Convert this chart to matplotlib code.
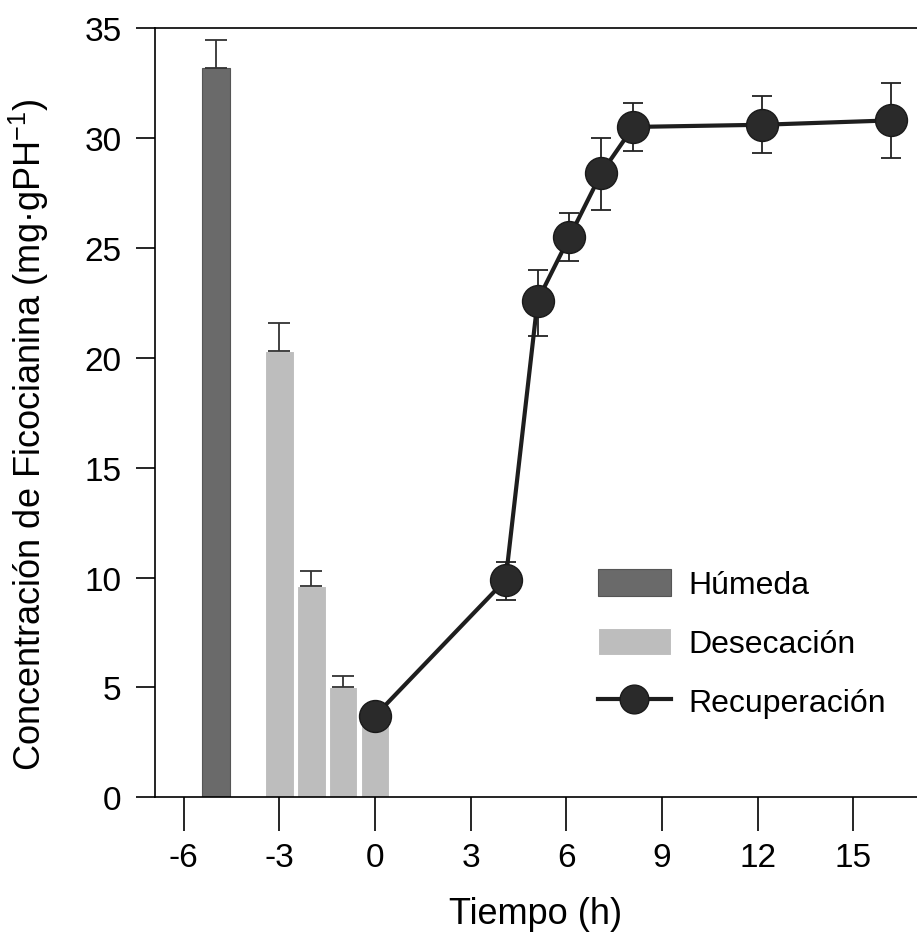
import numpy as np
import matplotlib
matplotlib.use('Agg')
import matplotlib.pyplot as plt

# Data
# Húmeda (wet) bar
x_humeda = [-5]
y_humeda = [33.2]
e_humeda = [1.25]

# Desecación (drying) bars
x_desec = [-3, -2, -1, 0]
y_desec = [20.3, 9.6, 5.0, 3.7]
e_desec = [1.3, 0.7, 0.5, 0.2]

# Recuperación (recovery) line
x_recup = [0, 4.1, 5.1, 6.1, 7.1, 8.1, 12.15, 16.2]
y_recup = [3.7, 9.9, 22.6, 25.5, 28.4, 30.5, 30.6, 30.8]
e_low = [0.1, 0.9, 1.6, 1.1, 1.7, 1.1, 1.3, 1.7]
e_high = [0.1, 0.8, 1.4, 1.1, 1.6, 1.1, 1.3, 1.7]

xticks = [-6, -3, 0, 3, 6, 9, 12, 15]
yticks = [0, 5, 10, 15, 20, 25, 30, 35]

plt.rcParams['font.family'] = ['Liberation Sans', 'DejaVu Sans']
plt.rcParams['mathtext.fontset'] = 'custom'
plt.rcParams['mathtext.rm'] = 'Liberation Sans'
plt.rcParams['axes.unicode_minus'] = False

fig = plt.figure(figsize=(9.17, 9.37), dpi=100)
ax = fig.add_axes([0.169, 0.148, 0.831, 0.821])

# Bars
h1 = ax.bar(x_humeda, y_humeda, width=0.88, color='#6a6a6a', edgecolor='#555555',
            linewidth=0.8, label='Húmeda', zorder=2)
ax.errorbar(x_humeda, y_humeda, yerr=[[0], e_humeda], fmt='none',
            ecolor='#333333', elinewidth=1.3, capsize=8, capthick=1.3, zorder=2)
h2 = ax.bar(x_desec, y_desec, width=0.9, color='#bdbdbd', edgecolor='white',
            linewidth=0.8, label='Desecación', zorder=2)
ax.errorbar(x_desec, y_desec, yerr=[[0]*4, e_desec], fmt='none',
            ecolor='#333333', elinewidth=1.3, capsize=8, capthick=1.3, zorder=2)

# Recovery line
ax.errorbar(x_recup, y_recup, yerr=[e_low, e_high], fmt='none',
            ecolor='#222222', elinewidth=1.3, capsize=7.5, capthick=1.3, zorder=3)
h3, = ax.plot(x_recup, y_recup, '-o', color='#1e1e1e', lw=3, markersize=23,
              markerfacecolor='#2a2a2a', markeredgecolor='#1a1a1a',
              label='Recuperación', zorder=4)

ax.set_xlim(-6.9, 17.0)
ax.set_ylim(0, 35)
ax.set_xticks(xticks)
ax.set_yticks(yticks)
ax.tick_params(axis='x', direction='out', length=24.5, width=1.2, labelsize=24, pad=8)
ax.tick_params(axis='y', direction='out', length=14, width=1.2, labelsize=24, pad=10)
ax.spines['right'].set_visible(False)
for s in ['left', 'bottom', 'top']:
    ax.spines[s].set_linewidth(1.2)

ax.set_xlabel('Tiempo (h)', fontsize=26, labelpad=16)
ax.set_ylabel('Concentración de Ficocianina (mg·gPH$^{-1}$)', fontsize=26)
ax.yaxis.set_label_coords(-0.136, 0.472)

ax.legend([h1, h2, h3], ['Húmeda', 'Desecación', 'Recuperación'],
          loc='center left', bbox_to_anchor=(0.543, 0.2), frameon=False,
          fontsize=23, handlelength=2.3, handleheight=0.95, labelspacing=0.85,
          handletextpad=0.56, markerscale=0.9)

fig.savefig('out.png', dpi=100)
